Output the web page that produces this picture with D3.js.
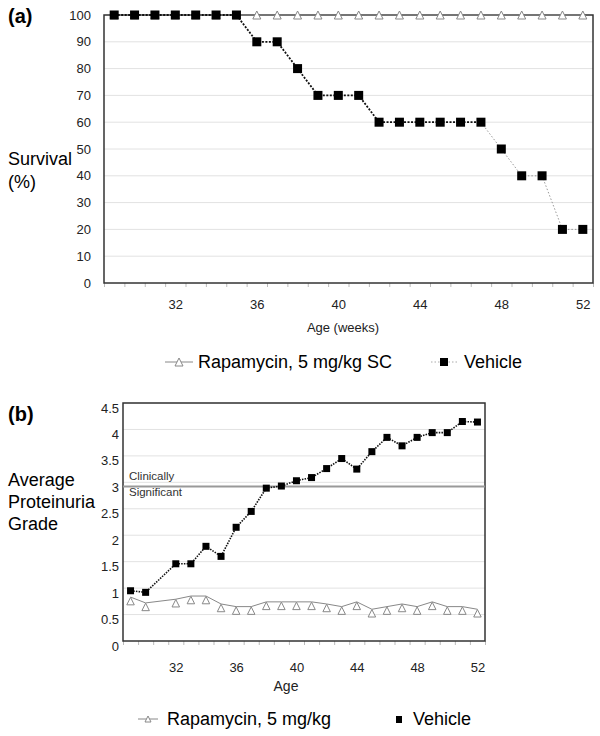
<!DOCTYPE html>
<html>
<head>
<meta charset="utf-8">
<script src="https://cdn.jsdelivr.net/npm/d3@7"></script>
<style>
  body { margin: 0; background: #fff; }
  svg { font-family: Arial, "Liberation Sans", sans-serif; display: block; }
</style>
</head>
<body>
<svg width="600" height="736"></svg>
<script>
// Panel (a): survival, weeks 29-52
const survivalWeeks = [29, 30, 31, 32, 33, 34, 35, 36, 37, 38, 39, 40, 41, 42, 43, 44, 45, 46, 47, 48, 49, 50, 51, 52];
const rapaSurvival = [100, 100, 100, 100, 100, 100, 100, 100, 100, 100, 100, 100, 100, 100, 100, 100, 100, 100, 100, 100, 100, 100, 100, 100];
const vehicleSurvival = [100, 100, 100, 100, 100, 100, 100, 90, 90, 80, 70, 70, 70, 60, 60, 60, 60, 60, 60, 50, 40, 40, 20, 20];
const vehicleDarkUntil = 47; // line turns to a faint dotted one after this week
const survivalTicks = [0, 10, 20, 30, 40, 50, 60, 70, 80, 90, 100];

// Panel (b): proteinuria (no reading at week 31)
const protWeeks = [29, 30, 32, 33, 34, 35, 36, 37, 38, 39, 40, 41, 42, 43, 44, 45, 46, 47, 48, 49, 50, 51, 52];
const rapaProt = [0.83, 0.72, 0.79, 0.85, 0.85, 0.70, 0.65, 0.65, 0.74, 0.74, 0.74, 0.74, 0.70, 0.65, 0.74, 0.60, 0.65, 0.70, 0.65, 0.74, 0.65, 0.65, 0.60];
const vehicleProt = [0.95, 0.92, 1.46, 1.46, 1.79, 1.60, 2.15, 2.45, 2.89, 2.93, 3.03, 3.09, 3.26, 3.45, 3.25, 3.58, 3.85, 3.69, 3.85, 3.94, 3.94, 4.15, 4.14];
const protTicks = [0, 0.5, 1, 1.5, 2, 2.5, 3, 3.5, 4, 4.5];
const clinicalLevel = 2.92;

const ageLabels = [32, 36, 40, 44, 48, 52];
const catEdges = d3.range(28.5, 53, 1);

const svg = d3.select('svg');

function pairs(xs, ys) { return xs.map((w, i) => ({ w, v: ys[i] })); }

function drawFrame(g, x, y, yTicks, box, opts) {
    // gridlines
    g.append('g').selectAll('line')
        .data(yTicks.filter(t => t > 0))
        .enter().append('line')
        .attr('x1', box.left).attr('x2', box.right)
        .attr('y1', d => y(d)).attr('y2', d => y(d))
        .attr('stroke', '#e2e2e2').attr('stroke-width', 1);

    // y axis labels
    const ya = g.append('g')
        .attr('transform', `translate(${box.left},0)`)
        .call(d3.axisLeft(y).tickValues(yTicks).tickFormat(d => String(d)).tickSize(0).tickPadding(opts.yPad));
    ya.select('.domain').remove();
    ya.selectAll('text').attr('font-size', opts.yFont).attr('fill', '#222')
        .attr('dy', opts.yDy);

    // small tick marks at category edges
    const xt = g.append('g')
        .attr('transform', `translate(0,${box.bottom})`)
        .call(d3.axisBottom(x).tickValues(catEdges).tickSize(4).tickFormat(''));
    xt.select('.domain').remove();
    xt.selectAll('line').attr('stroke', '#bbb');

    // category labels
    const xl = g.append('g')
        .attr('transform', `translate(0,${box.bottom})`)
        .call(d3.axisBottom(x).tickValues(ageLabels).tickSize(0).tickPadding(opts.xPad));
    xl.select('.domain').remove();
    xl.selectAll('text').attr('font-size', opts.xFont).attr('fill', '#222');

    // plot border
    g.append('rect')
        .attr('x', box.left).attr('y', box.top)
        .attr('width', box.right - box.left).attr('height', box.bottom - box.top)
        .attr('fill', 'none').attr('stroke', '#333').attr('stroke-width', 1.5);
}

function triangle(g, cx, cy, s) {
    g.append('path')
        .attr('d', `M${cx},${cy - s / 2}L${cx + s / 2},${cy + s / 2}L${cx - s / 2},${cy + s / 2}Z`)
        .attr('fill', '#fff').attr('stroke', '#888').attr('stroke-width', 1);
}

// ---------- Panel (a) ----------
const boxA = { left: 104, right: 593, top: 15, bottom: 283 };
const xA = d3.scaleLinear().domain([28.5, 52.5]).range([boxA.left, boxA.right]);
const yA = d3.scaleLinear().domain([0, 100]).range([boxA.bottom, boxA.top]);
const gA = svg.append('g');

drawFrame(gA, xA, yA, survivalTicks, boxA, { yPad: 13, yFont: 13, yDy: '0.32em', xPad: 17, xFont: 13 });

const lineA = d3.line().x(d => xA(d.w)).y(d => yA(d.v));
const rapaA = pairs(survivalWeeks, rapaSurvival);
gA.append('path').datum(rapaA).attr('d', lineA)
    .attr('fill', 'none').attr('stroke', '#888').attr('stroke-width', 1.2);
rapaA.forEach(d => triangle(gA, xA(d.w), yA(d.v), 8));

const vehA = pairs(survivalWeeks, vehicleSurvival);
gA.append('path').datum(vehA.filter(d => d.w <= vehicleDarkUntil)).attr('d', lineA)
    .attr('fill', 'none').attr('stroke', '#111').attr('stroke-width', 1.8)
    .attr('stroke-dasharray', '2,1.5');
gA.append('path').datum(vehA.filter(d => d.w >= vehicleDarkUntil)).attr('d', lineA)
    .attr('fill', 'none').attr('stroke', '#999').attr('stroke-width', 1)
    .attr('stroke-dasharray', '1.5,2');
gA.selectAll('.sqA').data(vehA).enter().append('rect')
    .attr('x', d => xA(d.w) - 4.5).attr('y', d => yA(d.v) - 4.5)
    .attr('width', 9).attr('height', 9).attr('fill', '#000');

gA.append('text').attr('x', 8).attr('y', 23).attr('font-size', 20).attr('font-weight', 'bold').text('(a)');
gA.append('text').attr('x', 8).attr('y', 165).attr('font-size', 18).text('Survival');
gA.append('text').attr('x', 8).attr('y', 188).attr('font-size', 18).text('(%)');
gA.append('text').attr('x', 343).attr('y', 332).attr('font-size', 13).attr('text-anchor', 'middle')
    .attr('fill', '#222').text('Age (weeks)');

// legend (a)
const legA = gA.append('g');
legA.append('line').attr('x1', 165).attr('x2', 193).attr('y1', 362).attr('y2', 362)
    .attr('stroke', '#888').attr('stroke-width', 1);
triangle(legA, 179, 362, 8);
legA.append('text').attr('x', 198).attr('y', 368).attr('font-size', 18).text('Rapamycin, 5 mg/kg SC');
legA.append('line').attr('x1', 431).attr('x2', 458).attr('y1', 362).attr('y2', 362)
    .attr('stroke', '#aaa').attr('stroke-width', 1).attr('stroke-dasharray', '1.5,2');
legA.append('rect').attr('x', 440).attr('y', 358).attr('width', 8).attr('height', 8).attr('fill', '#000');
legA.append('text').attr('x', 464).attr('y', 368).attr('font-size', 18).text('Vehicle');

// ---------- Panel (b) ----------
const boxB = { left: 123, right: 485, top: 403, bottom: 641 };
const xB = d3.scaleLinear().domain([28.5, 52.5]).range([boxB.left, boxB.right]);
const yB = d3.scaleLinear().domain([0, 4.5]).range([boxB.bottom, boxB.top]);
const gB = svg.append('g');

drawFrame(gB, xB, yB, protTicks, boxB, { yPad: 4, yFont: 13, yDy: '0.7em', xPad: 22, xFont: 13 });

// clinically significant threshold
gB.append('line')
    .attr('x1', boxB.left).attr('x2', boxB.right)
    .attr('y1', yB(clinicalLevel)).attr('y2', yB(clinicalLevel))
    .attr('stroke', '#999').attr('stroke-width', 2);
gB.append('text').attr('x', 129).attr('y', 480).attr('font-size', 11.5).attr('fill', '#333').text('Clinically');
gB.append('text').attr('x', 129).attr('y', 496).attr('font-size', 11.5).attr('fill', '#333').text('Significant');

const lineB = d3.line().x(d => xB(d.w)).y(d => yB(d.v));
const rapaB = pairs(protWeeks, rapaProt);
gB.append('path').datum(rapaB).attr('d', lineB)
    .attr('fill', 'none').attr('stroke', '#888').attr('stroke-width', 1);
rapaB.forEach(d => triangle(gB, xB(d.w), yB(d.v) + 4, 7.5));

const vehB = pairs(protWeeks, vehicleProt);
gB.append('path').datum(vehB).attr('d', lineB)
    .attr('fill', 'none').attr('stroke', '#111').attr('stroke-width', 1.6)
    .attr('stroke-dasharray', '1.5,1.2');
gB.selectAll('.sqB').data(vehB).enter().append('rect')
    .attr('x', d => xB(d.w) - 3.5).attr('y', d => yB(d.v) - 3.5)
    .attr('width', 7).attr('height', 7).attr('fill', '#000');

gB.append('text').attr('x', 8).attr('y', 421).attr('font-size', 20).attr('font-weight', 'bold').text('(b)');
gB.append('text').attr('x', 8).attr('y', 486).attr('font-size', 18).text('Average');
gB.append('text').attr('x', 8).attr('y', 508).attr('font-size', 18).text('Proteinuria');
gB.append('text').attr('x', 8).attr('y', 530).attr('font-size', 18).text('Grade');
gB.append('text').attr('x', 286).attr('y', 691).attr('font-size', 14).attr('text-anchor', 'middle')
    .attr('fill', '#222').text('Age');

// legend (b)
const legB = gB.append('g');
legB.append('line').attr('x1', 138).attr('x2', 158).attr('y1', 719).attr('y2', 719)
    .attr('stroke', '#888').attr('stroke-width', 1);
triangle(legB, 148, 719, 6);
legB.append('text').attr('x', 167).attr('y', 725).attr('font-size', 18).text('Rapamycin, 5 mg/kg');
legB.append('rect').attr('x', 396).attr('y', 716).attr('width', 6).attr('height', 7).attr('fill', '#000');
legB.append('text').attr('x', 413).attr('y', 725).attr('font-size', 18).text('Vehicle');
</script>
</body>
</html>
